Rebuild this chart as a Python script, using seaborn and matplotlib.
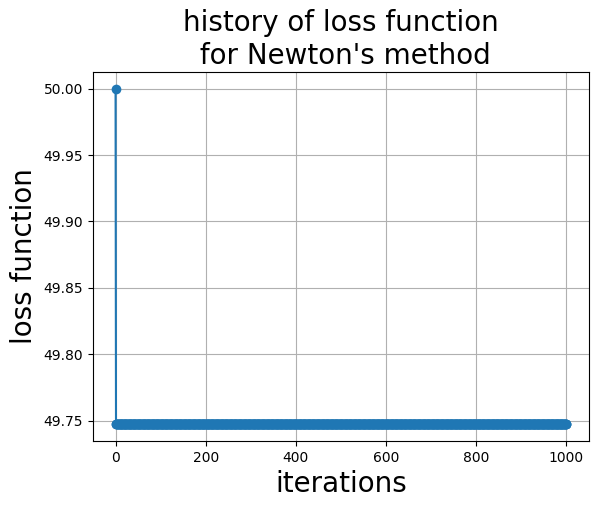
import numpy as np
import pandas as pd
import seaborn as sns
import matplotlib
matplotlib.use("Agg")
import matplotlib.pyplot as plt

# loss values: one start value, then flat after the first step
start_loss = [50.0]
converged_loss = 49.7472
n_iter = 1000

losses = start_loss + [converged_loss] * n_iter
iterations = list(range(len(losses)))


def main():
    df = pd.DataFrame({"iterations": iterations, "loss": losses})
    fig, ax = plt.subplots(figsize=(5.99, 5.09), dpi=100)
    fig.subplots_adjust(left=93 / 599, right=589 / 599,
                        top=1 - 72 / 509, bottom=1 - 441 / 509)
    sns.lineplot(data=df, x="iterations", y="loss", marker="o",
                 markeredgewidth=0, markersize=7, color="#1f77b4", ax=ax)
    ax.grid(True)
    ax.set_title("history of loss function\n for Newton's method", fontsize=20)
    ax.set_xlabel("iterations", fontsize=20)
    ax.set_ylabel("loss function", fontsize=20)
    ax.set_yticks([49.75, 49.80, 49.85, 49.90, 49.95, 50.00])
    ax.set_yticklabels(["49.75", "49.80", "49.85", "49.90", "49.95", "50.00"])
    fig.savefig("out.png", dpi=100)


if __name__ == "__main__":
    main()
